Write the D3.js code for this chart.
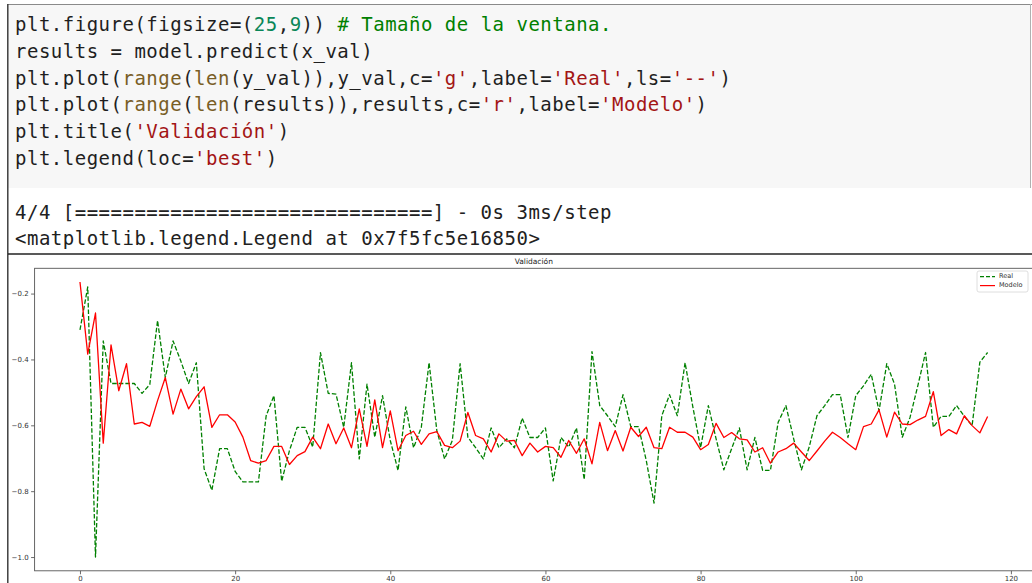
<!DOCTYPE html>
<html>
<head>
<meta charset="utf-8">
<script src="https://cdn.jsdelivr.net/npm/d3@7"></script>
<style>
  body { margin: 0; background: #fff; }
  svg { display: block; }
</style>
</head>
<body>
<svg id="page" width="1032" height="583"></svg>
<script>
// ---- Notebook cell: source lines split into highlighted tokens ----
const codeLines = [
  [["plt.figure(figsize=(", "p"], ["25", "n"], [",", "p"], ["9", "n"], [")) ", "p"], ["# Tamaño de la ventana.", "c"]],
  [["results = model.predict(x_val)", "p"]],
  [["plt.plot(", "p"], ["range", "b"], ["(", "p"], ["len", "b"], ["(y_val)),y_val,c=", "p"], ["'g'", "s"], [",label=", "p"], ["'Real'", "s"], [",ls=", "p"], ["'--'", "s"], [")", "p"]],
  [["plt.plot(", "p"], ["range", "b"], ["(", "p"], ["len", "b"], ["(results)),results,c=", "p"], ["'r'", "s"], [",label=", "p"], ["'Modelo'", "s"], [")", "p"]],
  [["plt.title(", "p"], ["'Validación'", "s"], [")", "p"]],
  [["plt.legend(loc=", "p"], ["'best'", "s"], [")", "p"]]
];
const outputLines = [
  "4/4 [==============================] - 0s 3ms/step",
  "<matplotlib.legend.Legend at 0x7f5fc5e16850>"
];
const tokenColors = { p: "#1f1f1f", n: "#098658", c: "#008000", s: "#a31515", b: "#795e26" };

// ---- Chart data ----
const chartTitle = "Validación";
const seriesNames = ["Real", "Modelo"];
const realValues = [
  -0.31, -0.18, -1.0, -0.344, -0.473, -0.473, -0.473, -0.473, -0.503, -0.476,
  -0.282, -0.455, -0.344, -0.405, -0.473, -0.41, -0.732, -0.797, -0.671, -0.671,
  -0.74, -0.772, -0.772, -0.772, -0.571, -0.51, -0.77, -0.677, -0.606, -0.606,
  -0.666, -0.379, -0.503, -0.505, -0.606, -0.41, -0.702, -0.475, -0.636, -0.51,
  -0.646, -0.737, -0.544, -0.668, -0.606, -0.41, -0.616, -0.702, -0.646, -0.413,
  -0.636, -0.668, -0.702, -0.608, -0.668, -0.641, -0.668, -0.578, -0.637, -0.637,
  -0.608, -0.769, -0.637, -0.666, -0.608, -0.765, -0.376, -0.54, -0.571, -0.604,
  -0.507, -0.604, -0.604, -0.707, -0.836, -0.571, -0.507, -0.571, -0.41, -0.544,
  -0.668, -0.54, -0.641, -0.735, -0.671, -0.608, -0.735, -0.637, -0.737, -0.737,
  -0.591, -0.54, -0.641, -0.735, -0.666, -0.571, -0.54, -0.507, -0.507, -0.637,
  -0.51, -0.48, -0.445, -0.556, -0.413, -0.475, -0.636, -0.576, -0.48, -0.379,
  -0.606, -0.573, -0.573, -0.54, -0.573, -0.601, -0.408, -0.379
];
const modelValues = [
  -0.165, -0.384, -0.259, -0.654, -0.356, -0.495, -0.413, -0.596, -0.591, -0.603,
  -0.525, -0.455, -0.566, -0.49, -0.55, -0.513, -0.483, -0.606, -0.568, -0.568,
  -0.59, -0.636, -0.707, -0.715, -0.707, -0.664, -0.664, -0.719, -0.692, -0.68,
  -0.636, -0.671, -0.596, -0.656, -0.608, -0.668, -0.55, -0.664, -0.523, -0.668,
  -0.556, -0.677, -0.631, -0.618, -0.658, -0.626, -0.619, -0.661, -0.668, -0.648,
  -0.561, -0.631, -0.641, -0.681, -0.626, -0.648, -0.646, -0.692, -0.654, -0.681,
  -0.664, -0.668, -0.697, -0.646, -0.685, -0.641, -0.717, -0.591, -0.677, -0.616,
  -0.678, -0.606, -0.634, -0.606, -0.668, -0.671, -0.606, -0.621, -0.621, -0.636,
  -0.674, -0.658, -0.594, -0.637, -0.622, -0.641, -0.644, -0.681, -0.668, -0.715,
  -0.681, -0.671, -0.654, -0.681, -0.707, -0.678, -0.648, -0.621, -0.637, -0.656,
  -0.674, -0.604, -0.596, -0.553, -0.636, -0.56, -0.596, -0.598, -0.584, -0.573,
  -0.498, -0.631, -0.613, -0.626, -0.571, -0.601, -0.623, -0.573
];
const xTicks = [0, 20, 40, 60, 80, 100, 120];
const yTicks = [-1.0, -0.8, -0.6, -0.4, -0.2];

const svg = d3.select("#page");
const W = 1032, H = 583;

svg.append("rect").attr("width", W).attr("height", H).attr("fill", "#fff");

// ---- Code cell ----
svg.append("rect")
  .attr("x", 8).attr("y", 4).attr("width", W - 9).attr("height", 184)
  .attr("fill", "#f7f7f7");
svg.append("line").attr("x1", 8).attr("x2", W).attr("y1", 4.5).attr("y2", 4.5)
  .attr("stroke", "#8a8a8a").attr("stroke-width", 1.2);
svg.append("line").attr("x1", W - 1.5).attr("x2", W - 1.5).attr("y1", 4).attr("y2", 188)
  .attr("stroke", "#b0b0b0").attr("stroke-width", 1);

const monoFont = "'DejaVu Sans Mono', 'Liberation Mono', monospace";
const codeG = svg.append("g")
  .attr("font-family", monoFont).attr("font-size", 19)
  .attr("letter-spacing", 0.5)
  .style("white-space", "pre");

codeLines.forEach((tokens, i) => {
  const t = codeG.append("text")
    .attr("x", 15).attr("y", 25 + i * 26.8)
    .attr("dominant-baseline", "middle");
  tokens.forEach(([txt, kind]) => {
    t.append("tspan").attr("fill", tokenColors[kind]).text(txt);
  });
});

outputLines.forEach((txt, i) => {
  codeG.append("text")
    .attr("x", 15).attr("y", 213 + i * 26)
    .attr("dominant-baseline", "middle")
    .attr("fill", "#212121")
    .text(txt);
});

// Left gutter line and separator above the figure
svg.append("line").attr("x1", 7.8).attr("x2", 7.8).attr("y1", 4).attr("y2", H)
  .attr("stroke", "#333").attr("stroke-width", 1.4);
svg.append("line").attr("x1", 8).attr("x2", W).attr("y1", 254).attr("y2", 254)
  .attr("stroke", "#222").attr("stroke-width", 1.4);

// ---- Figure ----
const plot = { left: 34.6, right: 1033, top: 268.3, bottom: 570.8 };
const n = realValues.length;
const xPad = (n - 1) * 0.05;
const x = d3.scaleLinear().domain([-xPad, n - 1 + xPad]).range([plot.left, plot.right]);

const allVals = realValues.concat(modelValues);
const [yMin, yMax] = d3.extent(allVals);
const yPad = (yMax - yMin) * 0.05;
const y = d3.scaleLinear().domain([yMin - yPad, yMax + yPad]).range([plot.bottom, plot.top]);

const fig = svg.append("g").attr("font-family", "'DejaVu Sans', sans-serif");

// Axes
const fmt = d3.format(".1f");
const xAxis = fig.append("g")
  .attr("transform", `translate(0,${plot.bottom})`)
  .call(d3.axisBottom(x).tickValues(xTicks).tickFormat(d3.format("d")).tickSize(3.5).tickPadding(2));
const yAxis = fig.append("g")
  .attr("transform", `translate(${plot.left},0)`)
  .call(d3.axisLeft(y).tickValues(yTicks).tickFormat(fmt).tickSize(3.5).tickPadding(2.5));
[xAxis, yAxis].forEach(a => {
  a.select(".domain").remove();
  a.selectAll(".tick line").attr("stroke", "#444").attr("stroke-width", 0.8);
  a.selectAll(".tick text").attr("fill", "#333").attr("font-size", 7).attr("font-family", "'DejaVu Sans', sans-serif");
});

// Series
const line = d3.line().x((d, i) => x(i)).y(d => y(d));
fig.append("path").datum(realValues)
  .attr("d", line).attr("fill", "none")
  .attr("stroke", "#008000").attr("stroke-width", 1.3)
  .attr("stroke-dasharray", "4.6,2").attr("stroke-linejoin", "round");
fig.append("path").datum(modelValues)
  .attr("d", line).attr("fill", "none")
  .attr("stroke", "#ff0000").attr("stroke-width", 1.3)
  .attr("stroke-linejoin", "round");

// Spines
fig.append("rect")
  .attr("x", plot.left).attr("y", plot.top)
  .attr("width", plot.right - plot.left).attr("height", plot.bottom - plot.top)
  .attr("fill", "none").attr("stroke", "#555").attr("stroke-width", 0.9);

// Title
fig.append("text")
  .attr("x", (plot.left + plot.right) / 2).attr("y", 262)
  .attr("text-anchor", "middle").attr("dominant-baseline", "middle")
  .attr("font-size", 7.5).attr("fill", "#222")
  .text(chartTitle);

// Legend
const legend = fig.append("g").attr("transform", "translate(977,271)");
legend.append("rect")
  .attr("width", 51).attr("height", 21).attr("rx", 2)
  .attr("fill", "#fff").attr("fill-opacity", 0.85)
  .attr("stroke", "#d6d6d6").attr("stroke-width", 0.8);
const legendStyles = [
  { color: "#008000", dash: "4,2" },
  { color: "#ff0000", dash: null }
];
seriesNames.forEach((name, i) => {
  const yy = 5.6 + i * 9;
  legend.append("line")
    .attr("x1", 3).attr("x2", 18).attr("y1", yy).attr("y2", yy)
    .attr("stroke", legendStyles[i].color).attr("stroke-width", 1.2)
    .attr("stroke-dasharray", legendStyles[i].dash);
  legend.append("text")
    .attr("x", 22).attr("y", yy)
    .attr("dominant-baseline", "middle")
    .attr("font-size", 6.5).attr("fill", "#333")
    .text(name);
});
</script>
</body>
</html>
